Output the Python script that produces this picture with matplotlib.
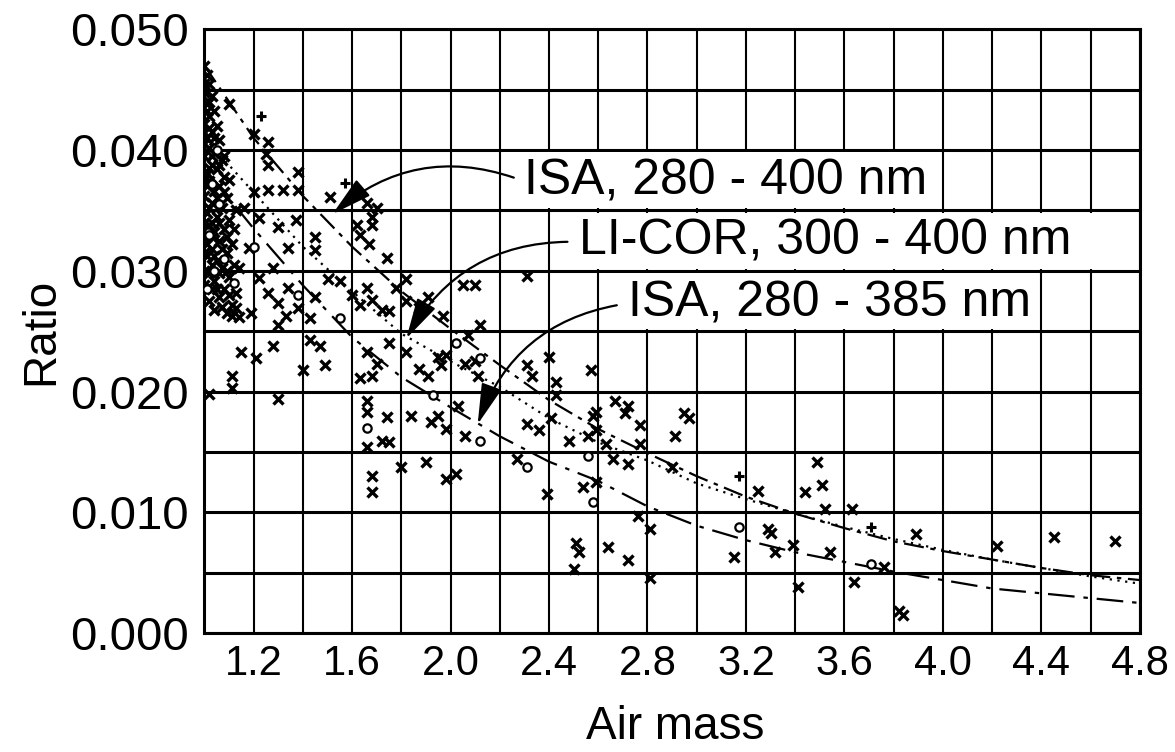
import matplotlib
matplotlib.use("Agg")
import matplotlib.pyplot as plt
from matplotlib.patches import Rectangle

plt.rcParams['font.family'] = ['Liberation Sans', 'DejaVu Sans']

air_mass = [1.0, 1.2, 1.4, 1.6, 1.8, 2.0, 2.2, 2.4, 2.6, 2.8,
            3.0, 3.2, 3.4, 3.6, 3.8, 4.0, 4.2, 4.4, 4.6, 4.8]
isa_400 = [0.0470, 0.0410, 0.0362, 0.0320, 0.0283, 0.0252, 0.0222, 0.0193, 0.0169, 0.0149,
           0.0130, 0.0113, 0.0099, 0.0087, 0.0076, 0.0068, 0.0061, 0.0054, 0.0048, 0.0044]
licor_400 = [0.0410, 0.0365, 0.0320, 0.0283, 0.0248, 0.0225, 0.0204, 0.0178, 0.0158, 0.0143,
             0.0124, 0.0111, 0.0099, 0.0088, 0.0078, 0.0069, 0.0061, 0.0054, 0.0047, 0.0041]
isa_385 = [0.0385, 0.0335, 0.0288, 0.0245, 0.0212, 0.0187, 0.0163, 0.0142, 0.0126, 0.0105,
           0.0089, 0.0077, 0.0067, 0.0059, 0.0051, 0.0044, 0.0037, 0.0033, 0.0029, 0.0025]

# measured points (x marks)
cross_pts = [
    (1.00, 0.0470), (1.01, 0.0462), (1.02, 0.0455), (1.00, 0.0448), (1.03, 0.0445), (1.01, 0.0438),
    (1.04, 0.0432), (1.02, 0.0428), (1.00, 0.0422), (1.05, 0.0420), (1.03, 0.0415), (1.01, 0.0410),
    (1.06, 0.0408), (1.02, 0.0402), (1.04, 0.0398), (1.00, 0.0395), (1.07, 0.0392), (1.03, 0.0388),
    (1.05, 0.0384), (1.01, 0.0380), (1.08, 0.0378), (1.02, 0.0374), (1.06, 0.0370), (1.04, 0.0366),
    (1.00, 0.0362), (1.09, 0.0360), (1.03, 0.0356), (1.07, 0.0352), (1.01, 0.0348), (1.05, 0.0345),
    (1.10, 0.0342), (1.02, 0.0338), (1.08, 0.0335), (1.04, 0.0332), (1.00, 0.0328), (1.06, 0.0325),
    (1.11, 0.0322), (1.03, 0.0318), (1.09, 0.0315), (1.01, 0.0312), (1.05, 0.0308), (1.12, 0.0305),
    (1.07, 0.0302), (1.02, 0.0298), (1.10, 0.0295), (1.04, 0.0292), (1.00, 0.0288), (1.08, 0.0285),
    (1.13, 0.0282), (1.06, 0.0278), (1.02, 0.0275), (1.11, 0.0272), (1.04, 0.0268), (1.09, 0.0265),
    (1.14, 0.0262), (1.01, 0.0432), (1.02, 0.0418), (1.00, 0.0405), (1.03, 0.0395), (1.01, 0.0370),
    (1.02, 0.0352), (1.03, 0.0340), (1.01, 0.0322), (1.03, 0.0305), (1.05, 0.0285), (1.07, 0.0270),
    (1.12, 0.0335), (1.13, 0.0350), (1.10, 0.0375), (1.08, 0.0395), (1.00, 0.0455), (1.02, 0.0440),
    (1.00, 0.0415), (1.04, 0.0410), (1.02, 0.0385), (1.06, 0.0388), (1.00, 0.0375), (1.05, 0.0360),
    (1.08, 0.0365), (1.00, 0.0340), (1.06, 0.0340), (1.03, 0.0328), (1.07, 0.0318), (1.00, 0.0315),
    (1.04, 0.0312), (1.09, 0.0328), (1.06, 0.0298), (1.00, 0.0300), (1.09, 0.0300), (1.03, 0.0285),
    (1.10, 0.0438), (1.20, 0.0413), (1.26, 0.0407), (1.25, 0.0397), (1.26, 0.0388), (1.20, 0.0365),
    (1.26, 0.0367), (1.32, 0.0367), (1.37, 0.0342), (1.45, 0.0328), (1.62, 0.0338), (1.68, 0.0338),
    (1.63, 0.0330), (1.67, 0.0322), (1.74, 0.0311), (1.51, 0.0361), (1.38, 0.0382), (1.16, 0.0352),
    (1.22, 0.0344), (1.30, 0.0336), (1.34, 0.0319), (1.18, 0.0319), (1.14, 0.0302), (1.22, 0.0294),
    (1.28, 0.0302), (1.38, 0.0367), (1.45, 0.0317), (1.68, 0.0345), (1.70, 0.0352), (1.66, 0.0356),
    (1.10, 0.0280), (1.11, 0.0263), (1.13, 0.0269), (1.19, 0.0265), (1.26, 0.0282), (1.30, 0.0273),
    (1.34, 0.0286), (1.33, 0.0263), (1.30, 0.0255), (1.38, 0.0269), (1.43, 0.0261), (1.45, 0.0278),
    (1.50, 0.0293), (1.55, 0.0292), (1.60, 0.0280), (1.63, 0.0272), (1.66, 0.0286), (1.68, 0.0276),
    (1.72, 0.0268), (1.75, 0.0267), (1.78, 0.0286), (1.82, 0.0293), (1.82, 0.0275), (1.87, 0.0269),
    (1.91, 0.0278), (1.97, 0.0263), (2.05, 0.0288), (2.10, 0.0288), (2.12, 0.0255), (2.31, 0.0296),
    (1.15, 0.0233), (1.21, 0.0228), (1.28, 0.0238), (1.11, 0.0213), (1.11, 0.0203), (1.43, 0.0243),
    (1.47, 0.0238), (1.49, 0.0222), (1.40, 0.0218), (1.63, 0.0211), (1.68, 0.0213), (1.66, 0.0233),
    (1.70, 0.0223), (1.75, 0.0240), (1.82, 0.0233), (1.87, 0.0219), (1.91, 0.0213), (1.95, 0.0229),
    (1.96, 0.0222), (1.98, 0.0230), (2.06, 0.0223), (2.10, 0.0225), (2.11, 0.0213), (2.07, 0.0247),
    (2.31, 0.0222), (2.33, 0.0213), (2.40, 0.0229), (2.43, 0.0208), (2.57, 0.0218),
    (1.02, 0.0198), (1.30, 0.0194), (1.66, 0.0192), (1.66, 0.0183), (1.74, 0.0179), (1.84, 0.0180),
    (1.92, 0.0175), (1.95, 0.0180), (1.98, 0.0169), (2.03, 0.0188), (2.06, 0.0163), (1.72, 0.0159),
    (1.75, 0.0158), (2.31, 0.0173), (2.36, 0.0168), (2.41, 0.0178), (2.48, 0.0159), (2.58, 0.0180),
    (1.66, 0.0154), (1.80, 0.0138), (1.90, 0.0142), (2.02, 0.0132), (1.98, 0.0128), (2.27, 0.0144),
    (2.54, 0.0121), (1.68, 0.0130), (1.68, 0.0117),
    (2.43, 0.0197), (2.59, 0.0183), (2.67, 0.0192), (2.72, 0.0188), (2.71, 0.0182), (2.77, 0.0172),
    (2.77, 0.0157), (2.59, 0.0168), (2.56, 0.0163), (2.63, 0.0157), (2.91, 0.0163), (2.95, 0.0182),
    (2.97, 0.0178), (2.66, 0.0144), (2.72, 0.0140), (2.90, 0.0138), (2.39, 0.0115), (2.59, 0.0125),
    (2.76, 0.0097), (2.81, 0.0086), (3.25, 0.0118), (3.49, 0.0142), (3.51, 0.0123), (3.44, 0.0117),
    (3.52, 0.0103), (3.63, 0.0103), (2.51, 0.0075), (2.52, 0.0067), (2.64, 0.0071), (2.72, 0.0061),
    (2.50, 0.0053), (3.15, 0.0063), (3.29, 0.0086), (3.30, 0.0083), (3.32, 0.0067), (3.39, 0.0073),
    (3.54, 0.0067), (3.76, 0.0055), (3.41, 0.0038), (3.64, 0.0042), (3.82, 0.0018), (3.84, 0.0015),
    (3.89, 0.0082), (4.22, 0.0072), (4.45, 0.0080), (4.70, 0.0076), (2.81, 0.0046),
]
circle_pts = [
    (1.05, 0.0400), (1.03, 0.0372), (1.06, 0.0355), (1.02, 0.0330), (1.08, 0.0310), (1.04, 0.0300),
    (1.12, 0.0290), (1.01, 0.0285), (1.20, 0.0320), (1.38, 0.0280), (1.55, 0.0261), (2.02, 0.0240),
    (2.12, 0.0228), (1.93, 0.0197), (2.12, 0.0159), (2.31, 0.0138), (2.56, 0.0147), (2.58, 0.0109),
    (3.17, 0.0088), (3.71, 0.0057), (1.66, 0.0170),
]
plus_pts = [(1.23, 0.0428), (1.57, 0.0373), (3.17, 0.0130), (3.71, 0.0088)]

labels = ['ISA, 280 - 400 nm', 'LI-COR, 300 - 400 nm', 'ISA, 280 - 385 nm']
arrow_tips = [(1.52, 0.0347), (1.82, 0.0244), (2.11, 0.0173)]
label_pos = [(2.30, 0.0374), (2.52, 0.0324), (2.72, 0.0273)]
# white cells behind each label: x0, x1, y0, y1
label_cells = [(2.2, 4.0, 0.035, 0.040), (2.4, 4.8, 0.030, 0.035), (2.6, 4.4, 0.025, 0.030)]

fig = plt.figure(figsize=(11.75, 7.52), dpi=100)
ax = fig.add_axes([0.174, 0.158, 0.796, 0.803])

ax.plot(air_mass, isa_400, color='black', lw=1.6, dashes=(9, 3, 2, 3), zorder=2)
ax.plot(air_mass, licor_400, color='black', lw=1.6, dashes=(1, 2.5), zorder=2)
ax.plot(air_mass, isa_385, color='black', lw=1.6, dashes=(12, 4, 2, 4), zorder=2)

cx, cy = zip(*cross_pts)
ax.plot(cx, cy, 'x', color='black', ms=7, mew=2.4, zorder=3)
ox, oy = zip(*circle_pts)
ax.plot(ox, oy, 'o', color='black', mfc='white', ms=6, mew=1.6, zorder=3)
px, py = zip(*plus_pts)
ax.plot(px, py, '+', color='black', ms=7.5, mew=2.2, zorder=3)

for (x0, x1, y0, y1), lab, tip, pos in zip(label_cells, labels, arrow_tips, label_pos):
    ax.add_patch(Rectangle((x0 + 0.012, y0 + 0.00018), x1 - x0 - 0.024, y1 - y0 - 0.00036,
                           facecolor='white', edgecolor='none', zorder=1))
    ax.annotate(lab, xy=tip, xytext=pos, ha='left', va='center', fontsize=36, zorder=4,
                arrowprops=dict(arrowstyle='-|>,head_length=0.7,head_width=0.18', color='black',
                                lw=1.6, relpos=(0, 0.5), shrinkA=6, shrinkB=0,
                                connectionstyle='arc3,rad=0.3'))

ax.set_xlim(1.0, 4.8)
ax.set_ylim(0, 0.05)
ax.set_xticks([1.2, 1.6, 2.0, 2.4, 2.8, 3.2, 3.6, 4.0, 4.4, 4.8])
ax.set_xticks([1.4 + 0.4 * i for i in range(9)], minor=True)
ax.set_xticklabels(['1.2', '1.6', '2.0', '2.4', '2.8', '3.2', '3.6', '4.0', '4.4', '4.8'])
ax.set_yticks([0.0, 0.01, 0.02, 0.03, 0.04, 0.05])
ax.set_yticks([0.005, 0.015, 0.025, 0.035, 0.045], minor=True)
ax.set_yticklabels(['0.000', '0.010', '0.020', '0.030', '0.040', '0.050'])
ax.tick_params(which='both', length=0)
ax.tick_params(axis='x', labelsize=30, pad=8)
ax.tick_params(axis='y', labelsize=34, pad=11)

ax.set_axisbelow(True)
ax.grid(True, which='both', axis='x', color='black', lw=1.5)
ax.grid(True, which='both', axis='y', color='black', lw=2.2)
for s in ax.spines.values():
    s.set_linewidth(2.2)

ax.set_xlabel('Air mass', fontsize=33, va='center')
ax.xaxis.set_label_coords(0.503, -0.155)
ax.set_ylabel('Ratio', fontsize=33, va='center')
ax.yaxis.set_label_coords(-0.175, 0.5)

fig.savefig('out.png', dpi=100)
